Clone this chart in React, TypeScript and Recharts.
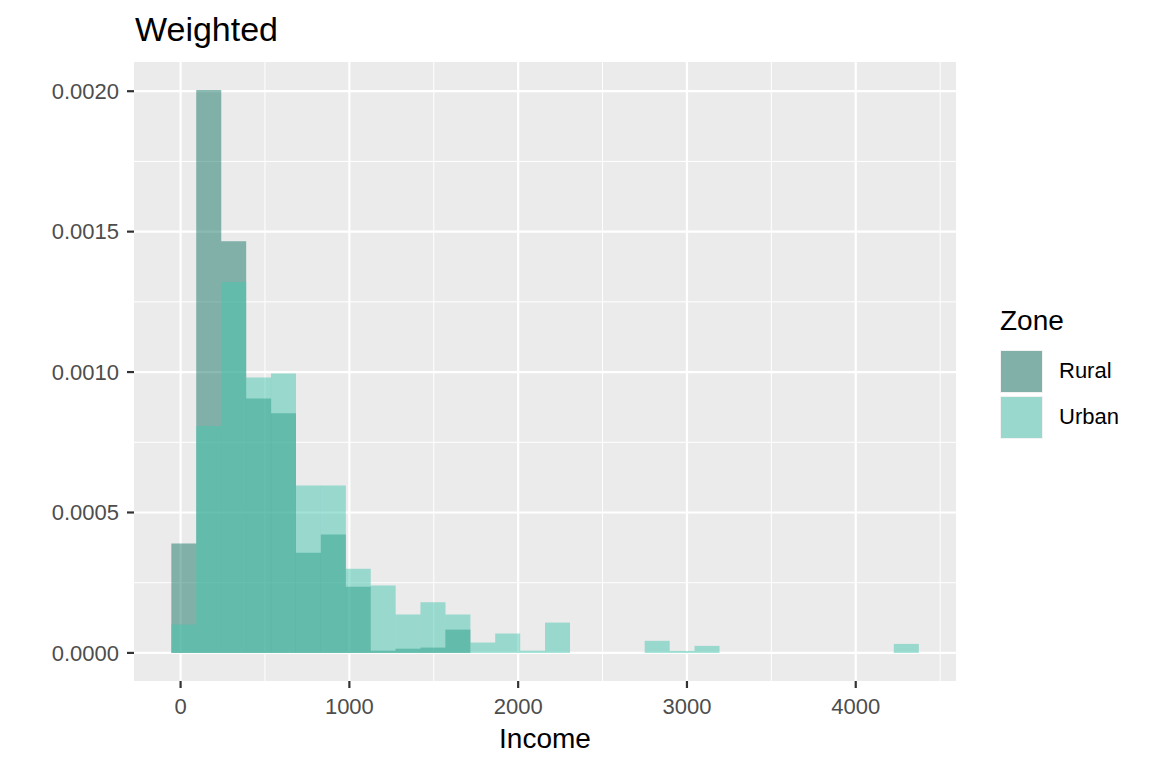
import { ComposedChart, Bar, XAxis, YAxis, CartesianGrid } from 'recharts';

// bin midpoints (income), 30 bins of ~147.6
const binMid = [
  19, 166.6, 314.2, 461.8, 609.4, 757, 904.6, 1052.2, 1199.8, 1347.4,
  1495, 1642.6, 1790.2, 1937.8, 2085.4, 2233, 2380.6, 2528.2, 2675.8, 2823.4,
  2971, 3118.6, 3266.2, 3413.8, 3561.4, 3709, 3856.6, 4004.2, 4151.8, 4299.4,
];
const rural = [
  0.00039, 0.002004, 0.001466, 0.000906, 0.000853, 0.000357, 0.000422, 0.000236, 0.000008, 0.000015,
  0.000019, 0.000083, 0, 0, 0, 0, 0, 0, 0, 0,
  0, 0, 0, 0, 0, 0, 0, 0, 0, 0,
];
const urban = [
  0.000101, 0.000808, 0.001321, 0.000981, 0.000995, 0.000596, 0.000596, 0.0003, 0.00024, 0.000137,
  0.00018, 0.000137, 0.000037, 0.000069, 0.000008, 0.000108, 0, 0, 0, 0.000043,
  0.000007, 0.000025, 0, 0, 0, 0, 0, 0, 0, 0.000032,
];
const xTicks = [0, 1000, 2000, 3000, 4000];
const xMinor = [500, 1500, 2500, 3500, 4500];
const yTicks = [0, 0.0005, 0.001, 0.0015, 0.002];
const yMinor = [0.00025, 0.00075, 0.00125, 0.00175];

const RURAL = '#157564';
const URBAN = '#46C6AF';
const FONT = '"Liberation Sans", Arial, sans-serif';

const data = binMid.map((mid, i) => ({ mid, rural: rural[i], urban: urban[i] }));
const xDomain = [-276, 4594];

export default function App() {
  const tickStyle = { fontSize: 22, fill: '#4D4D4D', fontFamily: FONT };
  return (
    <div style={{ position: 'relative', width: 1152, height: 768, background: '#fff', fontFamily: FONT }}>
      <style>{'body{margin:0}'}</style>
      <div style={{ position: 'absolute', left: 135, top: 10, fontSize: 34, color: '#000' }}>Weighted</div>
      <ComposedChart width={1152} height={768} data={data} barCategoryGap={0} barGap={0}
        margin={{ top: 62, right: 196, bottom: 57, left: 74 }}>
        <CartesianGrid xAxisId="main" fill="#EBEBEB" stroke="#FFFFFF" strokeWidth={1}
          verticalValues={xMinor} horizontalValues={yMinor} />
        <CartesianGrid xAxisId="main" stroke="#FFFFFF" strokeWidth={2.2}
          verticalValues={xTicks} horizontalValues={yTicks} />
        <XAxis xAxisId="main" type="number" dataKey="mid" domain={xDomain} ticks={xTicks}
          allowDataOverflow height={30} axisLine={false} tickSize={7} tickMargin={10}
          tickLine={{ stroke: '#333333', strokeWidth: 2.2 }} tick={tickStyle} />
        <XAxis xAxisId="u" type="number" dataKey="mid" domain={xDomain} allowDataOverflow hide />
        <YAxis type="number" domain={[-0.0001, 0.002104]} ticks={yTicks} allowDataOverflow
          width={60} axisLine={false} tickSize={7} tickMargin={8}
          tickLine={{ stroke: '#333333', strokeWidth: 2.2 }} tick={tickStyle}
          tickFormatter={(v: number) => v.toFixed(4)} />
        <Bar xAxisId="main" dataKey="rural" fill={RURAL} fillOpacity={0.5} isAnimationActive={false} />
        <Bar xAxisId="u" dataKey="urban" fill={URBAN} fillOpacity={0.5} isAnimationActive={false} />
      </ComposedChart>
      <div style={{ position: 'absolute', left: 0, width: 1090, top: 723, textAlign: 'center', fontSize: 28, color: '#000' }}>Income</div>
      <div style={{ position: 'absolute', left: 1000, top: 305, fontSize: 28, color: '#000' }}>Zone</div>
      {[['Rural', RURAL], ['Urban', URBAN]].map(([name, col], i) => (
        <div key={name} style={{ position: 'absolute', left: 1000, top: 348 + i * 46, height: 46, display: 'flex', alignItems: 'center' }}>
          <div style={{ width: 41, height: 41, background: '#EBEBEB', border: '1.5px solid #F2F2F2', position: 'relative' }}>
            <div style={{ position: 'absolute', inset: 0, background: col, opacity: 0.5 }} />
          </div>
          <span style={{ marginLeft: 16, fontSize: 22, color: '#000' }}>{name}</span>
        </div>
      ))}
    </div>
  );
}
